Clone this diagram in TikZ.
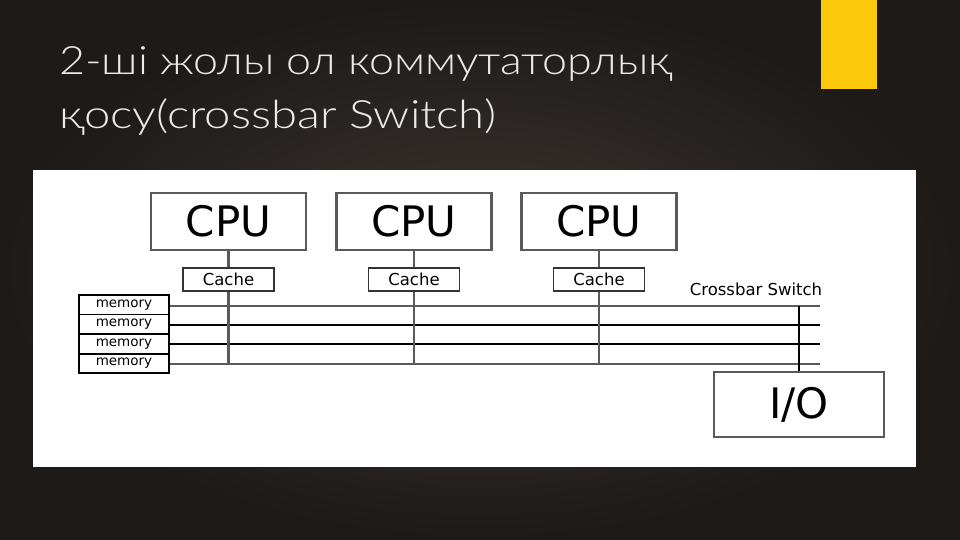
\documentclass[tikz,border=0pt]{standalone}
\usepackage{fontspec}
\setmainfont{DejaVu Sans}
\newfontfamily\titlefont{Lato Light}
\usetikzlibrary{calc}
\definecolor{slidebg}{HTML}{2A2522}
\definecolor{slidemid}{HTML}{3D3631}
\definecolor{accent}{HTML}{FCC90C}
\definecolor{boxline}{HTML}{5A5A5A}
\newcommand{\widetitle}[2]{\scalebox{#1}[1]{#2}}
\tikzset{%
    cpu/.style={rectangle, draw=boxline, line width=2.2pt, minimum width=155pt, minimum height=57pt, inner sep=0pt, font=\fontsize{42}{44}\selectfont},
    cache/.style={rectangle, draw=black!80, line width=1.6pt, minimum width=91pt, minimum height=23pt, inner sep=0pt, font=\fontsize{16.5}{18}\selectfont},
    mem/.style={rectangle, draw=black, line width=1.8pt, minimum width=90pt, minimum height=19.5pt, inner sep=0pt, font=\fontsize{13.5}{15}\selectfont},
    bus/.style={line width=2pt, draw=boxline},
    busthin/.style={line width=1.2pt, draw=black},
    vert/.style={line width=2.4pt, draw=boxline},
    ttl/.style={anchor=base west, inner sep=0pt, text=white!92!black, font=\titlefont\fontsize{39}{40}\selectfont},
}
\begin{document}
\begin{tikzpicture}[x=1pt, y=-1pt]
    \useasboundingbox (0,0) rectangle (960,540);
    \shade[inner color=slidemid, outer color=slidebg!70!black] (0,0) rectangle (960,540);
    \fill[accent] (821,0) rectangle (877,89);
    % title
    \node[ttl] (title1) at (59,75) {\widetitle{1.15}{2-ші жолы ол коммутаторлық}};
    \node[ttl] (title2) at (59,129) {\widetitle{1.21}{қосу(crossbar Switch)}};
    % panel
    \fill[white] (33,170) rectangle (916,467);
    \node[cpu] (cpu1) at (228.5,221.5) {CPU};
    \node[cpu] (cpu2) at (414,221.5) {CPU};
    \node[cpu] (cpu3) at (599,221.5) {CPU};
    \node[cache] (cache1) at (228.5,279.5) {Cache};
    \node[cache] (cache2) at (414,279.5) {Cache};
    \node[cache] (cache3) at (599,279.5) {Cache};
    \node[mem] (mem1) at (124,304.7) {memory};
    \node[mem] (mem2) at (124,324.2) {memory};
    \node[mem] (mem3) at (124,343.9) {memory};
    \node[mem] (mem4) at (124,363.6) {memory};
    \node[cpu, minimum width=170pt, minimum height=65pt] (io) at (799,404.5) {I/O};
    \node[font=\fontsize{16.5}{18}\selectfont] (xbar) at (756,289) {Crossbar Switch};
    \coordinate (bus1) at (820,306);
    \coordinate (bus2) at (820,325);
    \coordinate (bus3) at (820,344);
    \coordinate (bus4) at (820,363.5);
    \draw[bus] (mem1.east |- bus1) -- (bus1);
    \draw[busthin] (mem2.east |- bus2) -- (bus2);
    \draw[busthin] (mem3.east |- bus3) -- (bus3);
    \draw[bus] (mem4.east |- bus4) -- (bus4);
    \foreach \i in {1,2,3} {
        \draw[vert] (cpu\i.south) -- (cache\i.north);
        \draw[vert] (cache\i.south) -- (cache\i |- bus4);
    }
    \draw[busthin] (io.north |- bus1) -- (io.north);
\end{tikzpicture}
\end{document}
